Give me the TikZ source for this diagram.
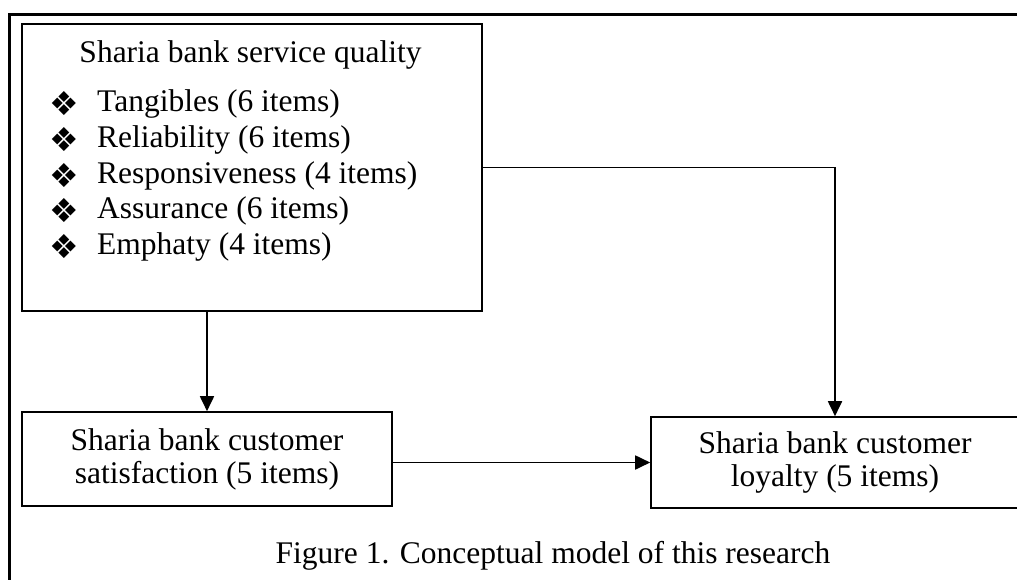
\documentclass[tikz,border=0pt]{standalone}
\usepackage{fontspec}
\setmainfont{Liberation Serif}
\newfontfamily\symfont{DejaVu Sans}
\usetikzlibrary{arrows.meta}
\begin{document}
\begin{tikzpicture}[x=1pt,y=-1pt,
  box/.style={draw, line width=1.6pt, inner sep=0pt},
  conn/.style={line width=1.8pt, -{Triangle[length=15pt,width=14pt]}},
  txt/.style={font=\fontsize{31.5}{33}\selectfont, inner sep=0pt},
  bul/.style={font=\symfont\fontsize{33}{33}\selectfont, inner sep=0pt}
  ]
\useasboundingbox (0,0) rectangle (1017,579);
\fill[white] (0,0) rectangle (1017,579);
\draw[line width=3pt] (9.5,600) -- (9.5,14) -- (1040,14);
\node[box, minimum width=460pt, minimum height=287pt] (sq) at (252,167.5) {};
\node[txt, anchor=base] (sqt) at (250.5,62) {Sharia bank service quality};
\foreach \n/\yy/\t in {1/111/Tangibles (6 items),2/147/Reliability (6 items),3/183/Responsiveness (4 items),4/218/Assurance (6 items),5/254/Emphaty (4 items)}{
  \node[bul, anchor=center] (b\n) at (64,\yy-7.5) {❖};
  \node[txt, anchor=base west] (i\n) at (97,\yy) {\t};
}
\node[box, txt, align=center, minimum width=370pt, minimum height=94pt] (sat) at (207,459) {Sharia bank customer\\satisfaction (5 items)};
\node[box, txt, align=center, minimum width=368pt, minimum height=91pt] (loy) at (835,462.5) {Sharia bank customer\\loyalty (5 items)};
\node[txt, anchor=base] (cap) at (553,563) {Figure 1. Conceptual model of this research};
\draw[conn] (sq.south -| sat.north) -- (sat.north);
\draw[conn] (sq.east) -| (loy.north);
\draw[conn] (sat.east |- loy.west) -- (loy.west);
\end{tikzpicture}
\end{document}
